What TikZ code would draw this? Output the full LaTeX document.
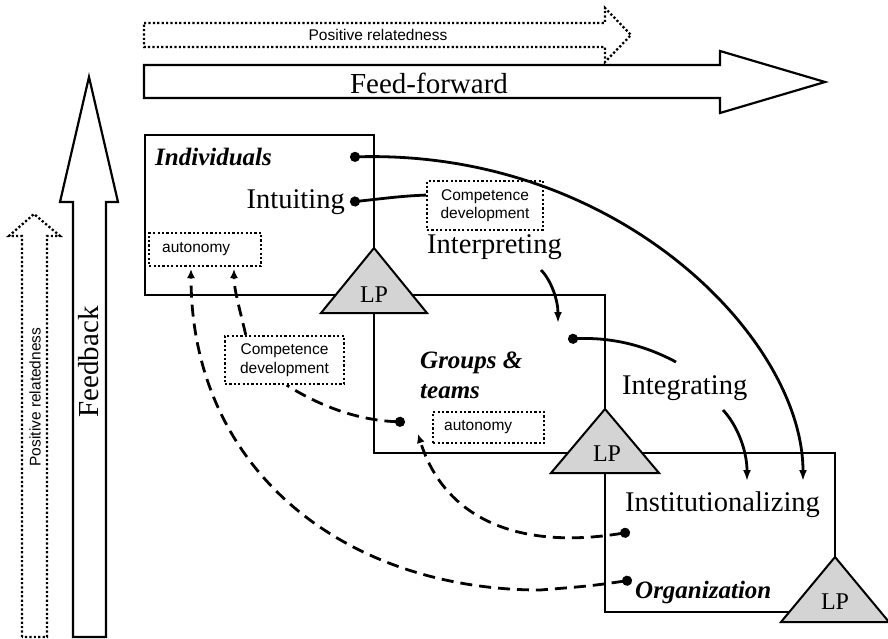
\documentclass[tikz,border=0pt]{standalone}
\usepackage{fontspec}
\setmainfont{Liberation Serif}
\setsansfont{Liberation Sans}
\usetikzlibrary{arrows.meta}

\tikzset{Dot/.tip = {Circle[length = 10pt]}}

\begin{document}
\begin{tikzpicture}[%
  x = 1pt, y = -1pt,
  > = {Latex[length = 11pt, width = 8pt]},
  frame/.style = {draw, line width = 2pt},
  dots/.style = {line width = 2.3pt, dash pattern = on 2.2pt off 2.2pt},
  bigarrow/.style = {draw, line width = 2.2pt},
  lp/.style = {draw, line width = 2pt, fill = black!17},
  lptext/.style = {inner sep = 0pt, font = \fontsize{24}{26}\selectfont},
  bigtext/.style = {inner sep = 0pt, font = \fontsize{29}{31}\selectfont},
  stage/.style = {inner sep = 0pt, font = \fontsize{28.5}{30}\selectfont},
  unitname/.style = {inner sep = 0pt, align = left, font = \fontsize{25}{30}\selectfont\bfseries\itshape},
  small/.style = {inner sep = 0pt, font = \sffamily\fontsize{15.5}{18.5}\selectfont},
  note/.style = {draw, dots, small, align = center},
  wire/.style = {line width = 2.8pt},
  dashwire/.style = {line width = 2.8pt, dash pattern = on 12pt off 7pt,
    > = {Latex[length = 9pt, width = 8pt]}}]
  \useasboundingbox (0,0) rectangle (888,639);

  % feed-forward / feedback arrows
  \draw[dots] (144,23) -- (605,23) -- (605,8) -- (631,35) -- (605,62) -- (605,47) -- (144,47) -- cycle;
  \node[small] (rel-h) at (378,35) {Positive relatedness};
  \draw[bigarrow] (144,65) -- (720,65) -- (720,51) -- (825,82) -- (720,113) -- (720,98) -- (144,98) -- cycle;
  \node[bigtext] (ff) at (429,83) {Feed-forward};
  \draw[bigarrow] (73,637) -- (73,202) -- (60,202) -- (89,77) -- (118,202) -- (106,202) -- (106,637) -- cycle;
  \node[bigtext, rotate = 90] (fb) at (89,362) {Feedback};
  \draw[dots] (22,637) -- (22,236) -- (9,236) -- (34,214) -- (60,236) -- (47,236) -- (47,637) -- cycle;
  \node[small, rotate = 90] (rel-v) at (35,397) {Positive relatedness};

  % levels
  \draw[frame] (145,135) rectangle (374,295);
  \draw[frame] (374,295) rectangle (605,453);
  \draw[frame] (605,453) rectangle (835,612);
  \draw[lp] (374,248) -- (427,313) -- (321,313) -- cycle;
  \draw[lp] (605,409) -- (659,473) -- (551,473) -- cycle;
  \draw[lp] (835,557) -- (889,622) -- (781,622) -- cycle;
  \node[lptext] (lp1) at (374,295) {LP};
  \node[lptext] (lp2) at (607,454) {LP};
  \node[lptext] (lp3) at (835,602) {LP};

  \node[unitname, anchor = west] (indiv) at (155,157) {Individuals};
  \node[unitname, anchor = west] (groups) at (420,375) {Groups \&\\teams};
  \node[unitname, anchor = west] (org) at (635,592) {Organization};

  \node[stage, anchor = east] (intuit) at (345,202) {Intuiting};
  \node[stage, anchor = west] (interp) at (427,247) {Interpreting};
  \node[stage, anchor = west] (integ) at (622,388) {Integrating};
  \node[stage, anchor = west] (inst) at (625,505) {Institutionalizing};

  \node[note, minimum width = 116pt, minimum height = 49pt] (comp1) at (485,205.5) {Competence\\development};
  \node[note, minimum width = 119pt, minimum height = 48pt] (comp2) at (284.5,360) {Competence\\development};
  \node[note, anchor = west, align = left, text width = 86pt, inner xsep = 13pt,
    minimum height = 33pt] (aut1) at (148,249.5) {autonomy};
  \node[note, anchor = west, align = left, text width = 89pt, inner xsep = 11pt,
    minimum height = 31pt] (aut2) at (432,427.5) {autonomy};

  % connector ends
  \coordinate (ind-dot) at (350,157);
  \coordinate (ind-end) at (803,481);
  \coordinate (int-dot) at (350,202);
  \coordinate (interp-out) at (541,270);
  \coordinate (grp-in) at (558,323);
  \coordinate (grp-dot) at (568,339);
  \coordinate (integ-in) at (676,362);
  \coordinate (integ-out) at (723,410);
  \coordinate (org-in) at (747,481);
  \coordinate (inst-dot) at (630,532);
  \coordinate (org-dot) at (632,580);
  \coordinate (org-low) at (540,590);
  \coordinate (grp-dot2) at (405,422);
  \coordinate (aut1-a) at (191,269);
  \coordinate (aut1-b) at (234,269);
  \coordinate (aut2-in) at (418,434);

  \draw[wire, Dot->] (ind-dot) .. controls (620,150) and (803,340) .. (ind-end);
  \draw[wire, Dot-] (int-dot) .. controls (380,199) and (400,196) .. (comp1.170);
  \draw[wire, ->] (interp-out) .. controls (551,280) and (558,300) .. (grp-in);
  \draw[wire, Dot-] (grp-dot) .. controls (615,337) and (648,347) .. (integ-in);
  \draw[wire, ->] (integ-out) .. controls (737,425) and (747,450) .. (org-in);

  \draw[dashwire, Dot->] (org-dot) .. controls (590,586) .. (org-low)
    .. controls (347,590) and (191,472) .. (aut1-a);
  \draw[dashwire, Dot->] (inst-dot) .. controls (520,550) and (445,520) .. (aut2-in);
  \draw[dashwire, Dot-] (grp-dot2) .. controls (350,420) and (310,400) .. (comp2.-85);
  \draw[dashwire, ->] (comp2.147) .. controls (240,310) and (234,290) .. (aut1-b);
\end{tikzpicture}
\end{document}
